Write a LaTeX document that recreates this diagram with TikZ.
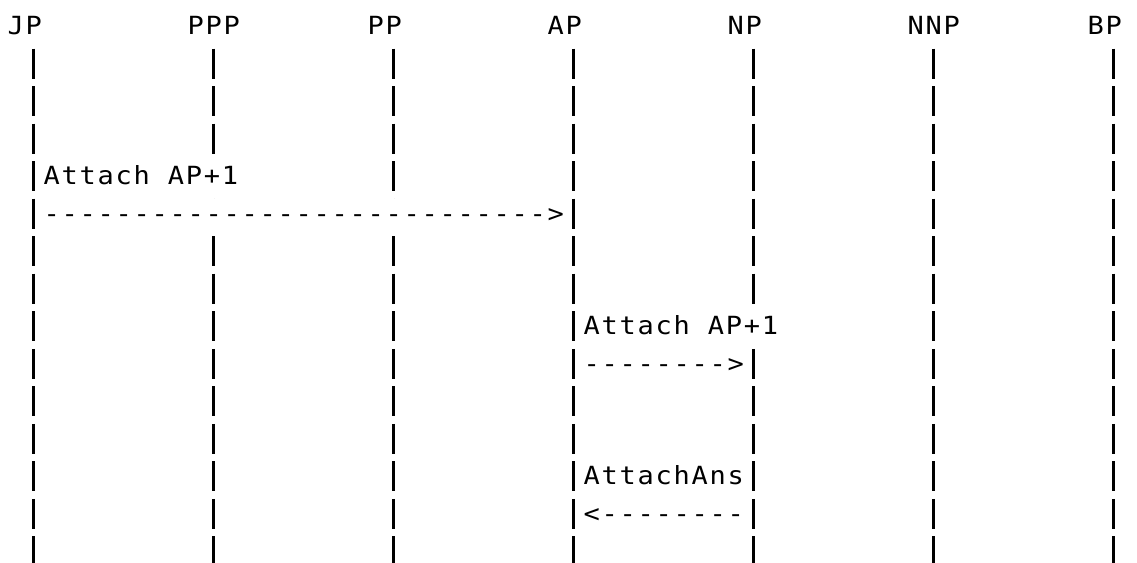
\documentclass[tikz,border=0pt]{standalone}
\usepackage{fontspec}
\newfontfamily\asciimono[FakeStretch=1.08,LetterSpace=7.0,Ligatures=TeXOff]{DejaVu Sans Mono}

\tikzset{
  lbl/.style={font=\asciimono\fontsize{25pt}{30pt}\selectfont, inner sep=0pt, anchor=base west},
  msg/.style={lbl, fill=white, text height=23.5pt, text depth=6.5pt},
  life/.style={line width=2.1pt, dash pattern=on 30pt off 7.53pt},
}

\begin{document}
\begin{tikzpicture}[x=18pt, y=-37.53pt]
    \useasboundingbox (0,0) rectangle (63.17,15);
    \node [lbl] (jp) at (0.41,0.919) {JP};
    \node [lbl] (ppp) at (10.41,0.919) {PPP};
    \node [lbl] (pp) at (20.41,0.919) {PP};
    \node [lbl] (ap) at (30.41,0.919) {AP};
    \node [lbl] (np) at (40.41,0.919) {NP};
    \node [lbl] (nnp) at (50.41,0.919) {NNP};
    \node [lbl] (bp) at (60.41,0.919) {BP};
    \foreach \n/\c in {jp/1,ppp/11,pp/21,ap/31,np/41,nnp/51,bp/61} {
      \coordinate (\n-top) at ({\c+0.861},1.293);
      \coordinate (\n-end) at ({\c+0.861},15);
      \draw [life] (\n-top) -- (\n-end);
    }
    \node [msg] (att1) at (2.41,4.919) {Attach AP+1};
    \node [msg] (arr1) at (2.41,5.919) {---------------------------->};
    \node [msg] (att2) at (32.41,8.919) {Attach AP+1};
    \node [msg] (arr2) at (32.41,9.919) {-------->};
    \node [msg] (ans) at (32.41,12.919) {AttachAns};
    \node [msg] (arr3) at (32.41,13.919) {<--------};
\end{tikzpicture}
\end{document}
